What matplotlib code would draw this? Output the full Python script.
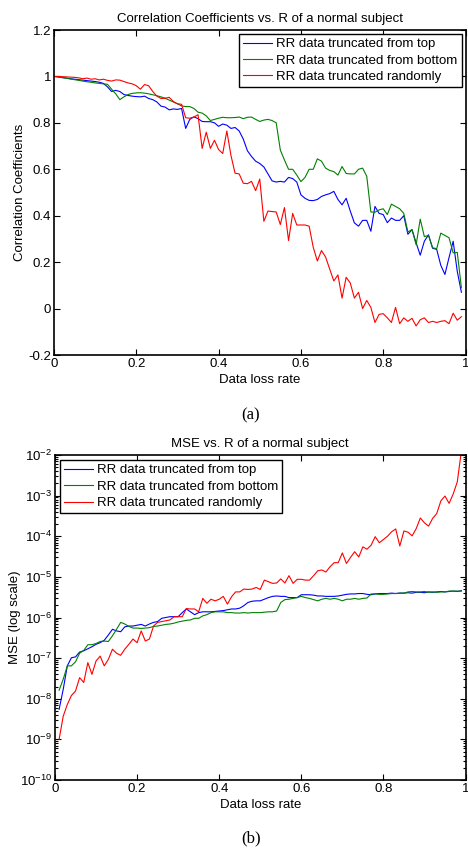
import matplotlib
matplotlib.use('Agg')
import matplotlib.pyplot as plt
import numpy as np
from matplotlib.ticker import FuncFormatter, LogFormatterSciNotation, LogLocator

plt.rcParams['font.family'] = ['Liberation Sans', 'DejaVu Sans']
plt.rcParams['mathtext.default'] = 'regular'

OUT = 'out.png'

LABELS = ['RR data truncated from top', 'RR data truncated from bottom', 'RR data truncated randomly']
COLORS = ['#0000ff', '#008000', '#ff0000']

# data loss rate grid (0.00 .. 0.99 step 0.01)
loss_rate = np.round(np.arange(100) * 0.01, 2)

# (a) correlation coefficients
corr_top = [
    1.000, 0.998, 0.995, 0.993, 0.990, 0.988, 0.986, 0.984, 0.982, 0.980,
    0.978, 0.975, 0.970, 0.955, 0.935, 0.940, 0.935, 0.922, 0.918, 0.915,
    0.913, 0.912, 0.915, 0.905, 0.900, 0.890, 0.872, 0.868, 0.856, 0.860,
    0.858, 0.862, 0.776, 0.815, 0.826, 0.818, 0.806, 0.805, 0.805, 0.800,
    0.785, 0.795, 0.790, 0.776, 0.780, 0.765, 0.730, 0.680, 0.655, 0.635,
    0.625, 0.610, 0.580, 0.550, 0.545, 0.548, 0.545, 0.565, 0.560, 0.545,
    0.490, 0.475, 0.466, 0.465, 0.470, 0.483, 0.490, 0.495, 0.505, 0.470,
    0.447, 0.475, 0.420, 0.369, 0.355, 0.380, 0.380, 0.333, 0.440, 0.410,
    0.405, 0.370, 0.390, 0.380, 0.380, 0.400, 0.320, 0.340, 0.283, 0.230,
    0.290, 0.318, 0.260, 0.255, 0.186, 0.147, 0.220, 0.290, 0.160, 0.070,
]
corr_bottom = [
    1.000, 0.998, 0.995, 0.992, 0.989, 0.986, 0.983, 0.980, 0.977, 0.975,
    0.972, 0.970, 0.968, 0.966, 0.945, 0.925, 0.900, 0.912, 0.922, 0.927,
    0.929, 0.930, 0.928, 0.925, 0.921, 0.917, 0.912, 0.906, 0.898, 0.890,
    0.882, 0.873, 0.870, 0.870, 0.862, 0.846, 0.842, 0.830, 0.810, 0.815,
    0.820, 0.824, 0.822, 0.822, 0.823, 0.825, 0.818, 0.824, 0.825, 0.815,
    0.806, 0.812, 0.815, 0.810, 0.800, 0.683, 0.640, 0.600, 0.600, 0.575,
    0.547, 0.565, 0.600, 0.600, 0.645, 0.635, 0.605, 0.595, 0.590, 0.575,
    0.612, 0.582, 0.580, 0.580, 0.600, 0.605, 0.570, 0.416, 0.415, 0.425,
    0.430, 0.405, 0.450, 0.440, 0.430, 0.410, 0.330, 0.340, 0.275, 0.385,
    0.310, 0.315, 0.262, 0.258, 0.325, 0.315, 0.305, 0.240, 0.242, 0.090,
]
corr_random = [
    1.000, 1.000, 0.999, 0.998, 0.997, 0.996, 0.994, 0.990, 0.993, 0.988,
    0.990, 0.985, 0.988, 0.983, 0.980, 0.985, 0.984, 0.978, 0.972, 0.968,
    0.960, 0.945, 0.965, 0.960, 0.935, 0.915, 0.905, 0.906, 0.910, 0.892,
    0.882, 0.880, 0.822, 0.820, 0.825, 0.835, 0.690, 0.760, 0.690, 0.725,
    0.685, 0.668, 0.765, 0.660, 0.583, 0.580, 0.540, 0.538, 0.548, 0.508,
    0.558, 0.376, 0.420, 0.418, 0.416, 0.362, 0.435, 0.293, 0.410, 0.360,
    0.360, 0.360, 0.355, 0.264, 0.205, 0.250, 0.222, 0.170, 0.119, 0.145,
    0.045, 0.135, 0.110, 0.045, 0.070, 0.000, 0.035, 0.005, -0.060, -0.025,
    -0.022, -0.040, -0.060, 0.005, -0.065, -0.040, -0.055, -0.042, -0.075, -0.048,
    -0.040, -0.060, -0.055, -0.060, -0.055, -0.052, -0.065, -0.020, -0.050, -0.035,
]

# (b) MSE, stored as log10 values for loss rates 0.01 .. 0.99
mse_rate = loss_rate[1:]
log_mse_top = [
    -8.26, -7.77, -7.19, -6.99, -6.97, -6.85, -6.82, -6.77, -6.72,
    -6.66, -6.62, -6.56, -6.43, -6.29, -6.33, -6.35, -6.23, -6.21, -6.21,
    -6.19, -6.17, -6.21, -6.16, -6.12, -6.10, -6.02, -6.00, -5.98, -5.98,
    -5.98, -5.88, -5.79, -5.86, -5.93, -5.88, -5.86, -5.86, -5.86, -5.85,
    -5.84, -5.83, -5.81, -5.79, -5.79, -5.77, -5.71, -5.63, -5.60, -5.59,
    -5.59, -5.55, -5.51, -5.48, -5.47, -5.48, -5.48, -5.51, -5.51, -5.51,
    -5.44, -5.44, -5.44, -5.45, -5.47, -5.47, -5.48, -5.48, -5.48, -5.47,
    -5.45, -5.43, -5.42, -5.42, -5.41, -5.41, -5.43, -5.44, -5.42, -5.41,
    -5.41, -5.41, -5.40, -5.41, -5.40, -5.40, -5.39, -5.40, -5.38, -5.38,
    -5.39, -5.37, -5.38, -5.37, -5.36, -5.37, -5.36, -5.35, -5.36, -5.34,
]
log_mse_bottom = [
    -7.79, -7.52, -7.19, -7.19, -7.09, -6.88, -6.81, -6.67, -6.67,
    -6.64, -6.59, -6.58, -6.59, -6.45, -6.29, -6.12, -6.16, -6.22, -6.26,
    -6.26, -6.27, -6.26, -6.25, -6.22, -6.21, -6.19, -6.17, -6.16, -6.14,
    -6.11, -6.09, -6.07, -6.06, -6.02, -6.02, -5.96, -5.93, -5.88, -5.86,
    -5.86, -5.86, -5.88, -5.88, -5.89, -5.89, -5.88, -5.89, -5.88, -5.88,
    -5.88, -5.87, -5.86, -5.86, -5.84, -5.63, -5.56, -5.55, -5.53, -5.51,
    -5.48, -5.51, -5.53, -5.56, -5.59, -5.55, -5.53, -5.55, -5.53, -5.55,
    -5.59, -5.55, -5.55, -5.53, -5.55, -5.53, -5.52, -5.42, -5.42, -5.43,
    -5.43, -5.42, -5.41, -5.41, -5.40, -5.40, -5.37, -5.36, -5.37, -5.37,
    -5.36, -5.38, -5.37, -5.38, -5.37, -5.37, -5.35, -5.35, -5.35, -5.35,
]
log_mse_random = [
    -9.00, -8.43, -8.14, -7.92, -7.81, -7.48, -7.60, -7.11, -7.40,
    -7.07, -6.95, -7.19, -7.03, -6.78, -6.88, -6.93, -6.78, -6.66, -6.53,
    -6.62, -6.33, -6.58, -6.53, -6.21, -6.12, -6.10, -6.08, -6.06, -5.98,
    -5.98, -5.98, -5.78, -5.79, -5.79, -5.86, -5.53, -5.65, -5.55, -5.59,
    -5.55, -5.48, -5.67, -5.49, -5.37, -5.37, -5.30, -5.31, -5.30, -5.26,
    -5.31, -5.08, -5.12, -5.16, -5.15, -5.05, -5.15, -4.97, -5.16, -5.06,
    -5.06, -5.08, -5.08, -4.97, -4.85, -4.83, -4.88, -4.75, -4.65, -4.65,
    -4.41, -4.67, -4.52, -4.38, -4.51, -4.26, -4.32, -4.22, -4.01, -4.16,
    -4.08, -4.00, -3.89, -3.82, -4.24, -3.87, -3.90, -3.99, -3.81, -3.55,
    -3.67, -3.75, -3.56, -3.44, -3.13, -3.01, -3.19, -2.96, -2.66, -1.90,
]


def style_axes(ax):
    for s in ax.spines.values():
        s.set_linewidth(1.2)
    ax.tick_params(which='both', direction='in', top=True, right=True, labelsize=9.5,
                   width=0.8)
    ax.tick_params(which='major', length=4, pad=2)
    ax.tick_params(which='minor', length=2)


def add_legend(ax, loc, pad):
    leg = ax.legend(loc=loc, fontsize=9.5, fancybox=False, framealpha=1, edgecolor='black',
                    borderaxespad=pad, handlelength=2.2, handletextpad=0.3,
                    labelspacing=0.32, borderpad=0.3)
    leg.get_frame().set_linewidth(1.0)


def main():
    fig = plt.figure(figsize=(4.68, 8.5), dpi=100)

    # (a) correlation coefficients
    ax1 = fig.add_axes([54 / 468, 1 - 355 / 850, 411.5 / 468, 325 / 850])
    for vals, color, label in zip([corr_top, corr_bottom, corr_random], COLORS, LABELS):
        ax1.plot(loss_rate, vals, color=color, linewidth=0.8, label=label)
    ax1.set_xlim(0, 1)
    ax1.set_ylim(-0.2, 1.2)
    ax1.set_xticks(np.arange(0, 1.01, 0.2))
    ax1.set_yticks(np.arange(-0.2, 1.21, 0.2))
    fmt = FuncFormatter(lambda v, p: f'{v:g}' if abs(v) > 1e-9 else '0')
    ax1.xaxis.set_major_formatter(fmt)
    ax1.yaxis.set_major_formatter(fmt)
    style_axes(ax1)
    ax1.set_title('Correlation Coefficients vs. R of a normal subject', fontsize=9.5, pad=6)
    ax1.set_xlabel('Data loss rate', fontsize=9.5, labelpad=3)
    ax1.set_ylabel('Correlation Coefficients', fontsize=9.5, labelpad=2)
    add_legend(ax1, 'upper right', 0.3)

    # (b) MSE
    ax2 = fig.add_axes([55 / 468, 1 - 780 / 850, 410.5 / 468, 325 / 850])
    for vals, color, label in zip([log_mse_top, log_mse_bottom, log_mse_random], COLORS, LABELS):
        ax2.plot(mse_rate, 10.0 ** np.array(vals), color=color, linewidth=0.8, label=label)
    ax2.set_yscale('log')
    ax2.set_xlim(0, 1)
    ax2.set_ylim(1e-10, 1e-2)
    ax2.set_xticks(np.arange(0, 1.01, 0.2))
    ax2.xaxis.set_major_formatter(fmt)
    ax2.yaxis.set_major_locator(LogLocator(base=10, numticks=20))
    ax2.yaxis.set_minor_locator(LogLocator(base=10, subs=np.arange(2, 10), numticks=20))
    ax2.yaxis.set_major_formatter(LogFormatterSciNotation())
    style_axes(ax2)
    ax2.set_title('MSE vs. R of a normal subject', fontsize=9.5, pad=6)
    ax2.set_xlabel('Data loss rate', fontsize=9.5, labelpad=3)
    ax2.set_ylabel('MSE (log scale)', fontsize=9.5, labelpad=-1)
    add_legend(ax2, 'upper left', 0.4)

    fig.text(251 / 468, 1 - 415 / 850, '(a)', family='Liberation Serif', fontsize=12,
             ha='center', va='center')
    fig.text(251 / 468, 1 - 838 / 850, '(b)', family='Liberation Serif', fontsize=12,
             ha='center', va='center')

    fig.savefig(OUT, dpi=100)
    plt.close(fig)


if __name__ == '__main__':
    main()
